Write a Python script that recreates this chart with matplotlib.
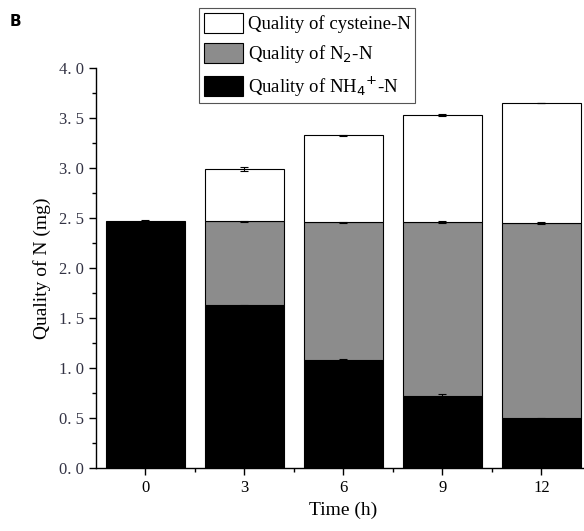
import numpy as np
import matplotlib
matplotlib.use('Agg')
import matplotlib.pyplot as plt
from matplotlib.ticker import MultipleLocator, FixedLocator

times = ['0', '3', '6', '9', '12']
nh4_n = [2.47, 1.63, 1.08, 0.72, 0.50]
n2_n = [0.00, 0.84, 1.38, 1.74, 1.95]
cys_n = [0.00, 0.52, 0.87, 1.07, 1.20]
nh4_err = [0.01, 0.005, 0.015, 0.02, 0.005]
n2_err = [0.0, 0.005, 0.005, 0.01, 0.008]
cys_err = [0.0, 0.02, 0.005, 0.01, 0.005]

plt.rcParams['font.family'] = ['Liberation Serif', 'DejaVu Serif']

fig = plt.figure(figsize=(5.84, 5.31), dpi=100)
ax = fig.add_axes([96 / 584, 1 - 468 / 531, 1 - 96 / 584, 400 / 531])

x = np.arange(len(times))
nh4 = np.array(nh4_n)
n2 = np.array(n2_n)
cys = np.array(cys_n)
w = 0.8
ekw = dict(fmt='none', ecolor='black', elinewidth=0.8, capsize=3, capthick=0.8)

ax.bar(x, nh4, w, color='black', edgecolor='black', linewidth=0.8,
       label='Quality of NH$_4$$^{+}$-N', zorder=2)
ax.bar(x[1:], n2[1:], w, bottom=nh4[1:], color='#8c8c8c', edgecolor='black',
       linewidth=0.8, label='Quality of N$_2$-N', zorder=2)
ax.bar(x[1:], cys[1:], w, bottom=(nh4 + n2)[1:], color='white', edgecolor='black',
       linewidth=0.8, label='Quality of cysteine-N', zorder=2)

ax.errorbar(x, nh4, yerr=nh4_err, zorder=3, **ekw)
ax.errorbar(x[1:], (nh4 + n2)[1:], yerr=np.array(n2_err)[1:], zorder=3, **ekw)
ax.errorbar(x[1:], (nh4 + n2 + cys)[1:], yerr=np.array(cys_err)[1:], zorder=3, **ekw)

ax.set_xlim(-0.5, 4.43)
ax.set_ylim(0, 4.0)
ax.set_xticks(x)
ax.set_xticklabels(times, fontsize=12)
ax.xaxis.set_minor_locator(FixedLocator([0.5, 1.5, 2.5, 3.5]))
ax.yaxis.set_major_locator(MultipleLocator(0.5))
ax.yaxis.set_minor_locator(MultipleLocator(0.25))
ax.set_yticklabels([f'{v:.1f}'.replace('.', '. ') for v in ax.get_yticks()],
                   fontsize=12, color='#333344')
ax.tick_params(which='major', direction='out', length=5, width=1)
ax.tick_params(which='minor', direction='out', length=3, width=1)
for s in ['top', 'right']:
    ax.spines[s].set_visible(False)
ax.spines['left'].set_linewidth(1)
ax.spines['bottom'].set_linewidth(1)

ax.set_ylabel('Quality of N (mg)', fontsize=14, labelpad=6)
ax.set_xlabel('Time (h)', fontsize=14)
ax.xaxis.set_label_coords(2.5 / 4.93, -0.085)

h, l = ax.get_legend_handles_labels()
leg = fig.legend(h[::-1], l[::-1], loc='upper left',
                 bbox_to_anchor=(199 / 584, 1 - 8 / 531), fontsize=13.5,
                 handlelength=2.1, handleheight=1.3, handletextpad=0.25,
                 labelspacing=0.5, borderpad=0.25, borderaxespad=0,
                 fancybox=False, edgecolor='#555555', framealpha=1)
leg.get_frame().set_linewidth(0.8)

fig.text(10 / 584, 1 - 22 / 531, 'B', fontsize=11, fontweight='bold',
         family='DejaVu Sans', va='center')

fig.savefig('out.png', dpi=100)
